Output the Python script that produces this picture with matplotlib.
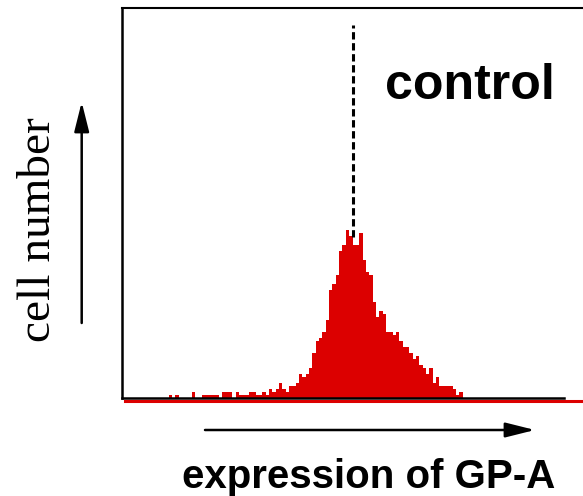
import numpy as np
import matplotlib.pyplot as plt
from matplotlib.patches import FancyArrowPatch

# histogram data: channel bin index -> cell count
bin_start = -33
counts = [1, 0, 1, 0, 0, 0, 0, 2, 0, 0, 1, 1, 1, 1, 1, 0, 2, 2, 2, 0, 2,
          1, 1, 1, 2, 2, 1, 1, 2, 1, 3, 2, 3,
          5, 3, 2, 4, 4, 5, 8, 7, 8, 10, 15, 19, 20, 22, 26, 36, 38, 41, 49, 51,
          56, 54, 51, 51, 55, 46, 42, 41, 32, 27, 29, 28, 22, 22, 21, 22, 19, 17,
          17, 15, 13, 14, 11, 10, 8, 10, 5, 7, 4, 4, 4, 4, 3, 1, 2]
bins = np.arange(bin_start, bin_start + len(counts))
control_mean = 22.2
label_top = "control"
xlabel = "expression of GP-A"
ylabel = "cell number"

red = '#dc0000'
W, H = 583, 496
fig = plt.figure(figsize=(W / 100, H / 100), dpi=100)

def fx(px):
    return px / W

def fy(py):
    return 1 - py / H

ax = fig.add_axes([fx(122), fy(398), fx(583 - 122), (398 - 8) / H])
ax.bar(bins, counts, width=1, align='edge', color=red, linewidth=0)
ax.set_xlim(-47, 91)
ax.set_ylim(0, 130)
ax.set_xticks([])
ax.set_yticks([])
ax.spines['right'].set_visible(False)
ax.spines['left'].set_linewidth(1.8)
ax.spines['top'].set_linewidth(1.5)
ax.spines['bottom'].set_linewidth(1.8)
ax.spines['bottom'].set_bounds(-47, 85.3)

# red baseline under the axis
ax.plot([-46.1, 95], [-0.9, -0.9], color=red, lw=2.2, clip_on=False, zorder=0)

# dashed line at control peak
ax.plot([control_mean, control_mean], [53.7, 124.3], color='black', lw=2.2,
        linestyle=(0, (2.4, 1.2)))

fig.text(fx(385), fy(99), label_top, fontsize=36, fontweight='bold',
         family='Liberation Sans', ha='left', va='baseline')
fig.text(fx(369), fy(488), xlabel, fontsize=29, fontweight='bold',
         family='Liberation Sans', ha='center', va='baseline')
fig.text(fx(39), fy(230), ylabel, fontsize=34, family='Liberation Serif',
         rotation=90, ha='center', va='center')

for a, b in [((81.7, 323), (81.7, 102)), ((205, 430), (535, 430))]:
    arr = FancyArrowPatch((fx(a[0]), fy(a[1])), (fx(b[0]), fy(b[1])),
                          transform=fig.transFigure,
                          arrowstyle='-|>,head_length=18,head_width=4.5',
                          mutation_scale=1, lw=1.8, color='black',
                          shrinkA=0, shrinkB=0)
    fig.add_artist(arr)

fig.savefig('out.png', dpi=100)
